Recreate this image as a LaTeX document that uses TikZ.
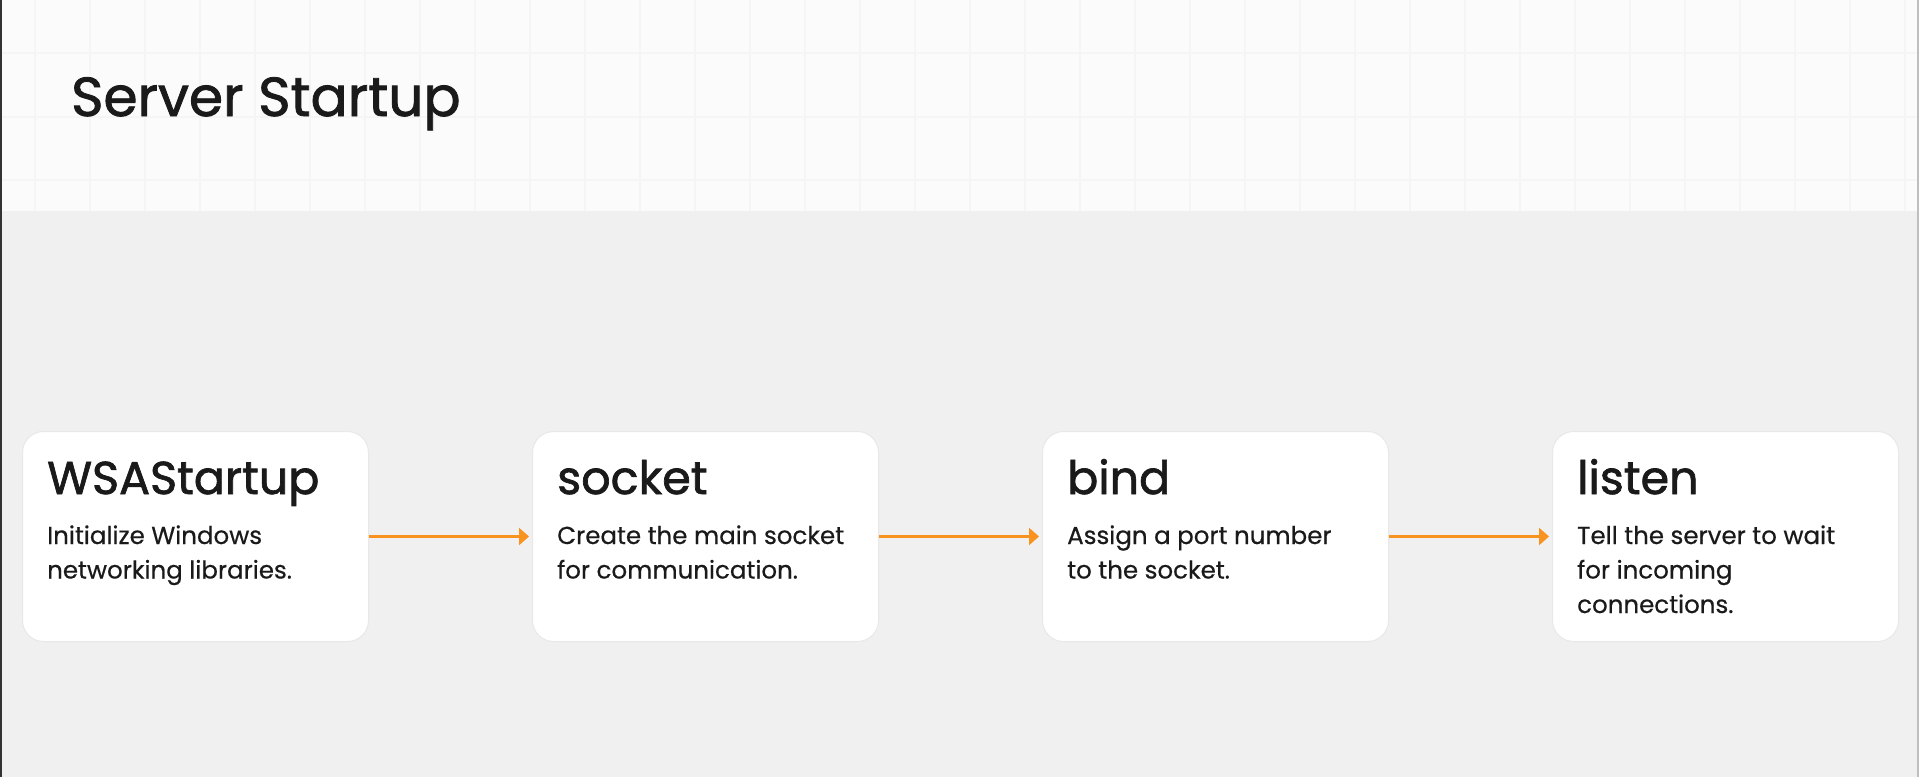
\documentclass[tikz,border=0pt]{standalone}
\usepackage{fontspec}
\setmainfont{Poppins}
\newfontfamily\medfont{Poppins}[FakeBold=1.5]
\newfontfamily\bodyfont{Poppins}[FakeBold=0.5]
\usetikzlibrary{arrows.meta}
\definecolor{hdrbg}{HTML}{FBFBFB}
\definecolor{gridc}{HTML}{F5F5F5}
\definecolor{mainbg}{HTML}{F0F0F0}
\definecolor{boxline}{HTML}{E8E8E8}
\definecolor{txt}{HTML}{1A1A1A}
\definecolor{arrc}{HTML}{F7931E}
\tikzset{
  stepbox/.style={draw=boxline, line width=1pt, fill=white, rounded corners=21pt,
    minimum width=346pt, minimum height=210pt, anchor=north west, inner sep=0pt},
  steptitle/.style={anchor=base west, inner sep=0pt, text=txt,
    font=\medfont\fontsize{46}{50}\selectfont},
  stepdesc/.style={anchor=base west, inner sep=0pt, text=txt,
    font=\bodyfont\fontsize{24.5}{34.5}\selectfont},
  flowarrow/.style={draw=arrc, line width=2.5pt, -{Triangle[length=10pt,width=17pt]}, shorten >=3pt},
}
\begin{document}
\begin{tikzpicture}[x=1pt,y=-1pt]
\useasboundingbox (0,0) rectangle (1919,777);
% backgrounds
\fill[mainbg] (0,0) rectangle (1919,777);
\fill[hdrbg] (0,0) rectangle (1919,211);
\foreach \gx in {35,90,...,1919} {\draw[gridc, line width=2pt] (\gx,0) -- (\gx,211);}
\foreach \gy in {53,117,180} {\draw[gridc, line width=2pt] (0,\gy) -- (1919,\gy);}
\fill[black!80] (0,0) rectangle (2,777);
\fill[black!25] (1917,0) rectangle (1919,777);
% title
\node[anchor=base west, inner sep=0pt, text=txt, font=\medfont\fontsize{55}{60}\selectfont] (title) at (71,116) {Server Startup};
% boxes
\node[stepbox] (b1) at (22,431) {};
\node[stepbox] (b2) at (532,431) {};
\node[stepbox] (b3) at (1042,431) {};
\node[stepbox] (b4) at (1552,431) {};
% titles
\node[steptitle] (t1) at (47,494) {WSAStartup};
\node[steptitle] (t2) at (557,494) {socket};
\node[steptitle] (t3) at (1067,494) {bind};
\node[steptitle] (t4) at (1577,494) {listen};
% descriptions
\node[stepdesc] (d1) at (47,544) {\parbox[t]{320pt}{Initialize Windows\\networking libraries.}};
\node[stepdesc] (d2) at (557,544) {\parbox[t]{320pt}{Create the main socket\\for communication.}};
\node[stepdesc] (d3) at (1067,544) {\parbox[t]{320pt}{Assign a port number\\to the socket.}};
\node[stepdesc] (d4) at (1577,544) {\parbox[t]{320pt}{Tell the server to wait\\for incoming\\connections.}};
% arrows
\draw[flowarrow] (b1.east) -- (b2.west);
\draw[flowarrow] (b2.east) -- (b3.west);
\draw[flowarrow] (b3.east) -- (b4.west);
\end{tikzpicture}
\end{document}
